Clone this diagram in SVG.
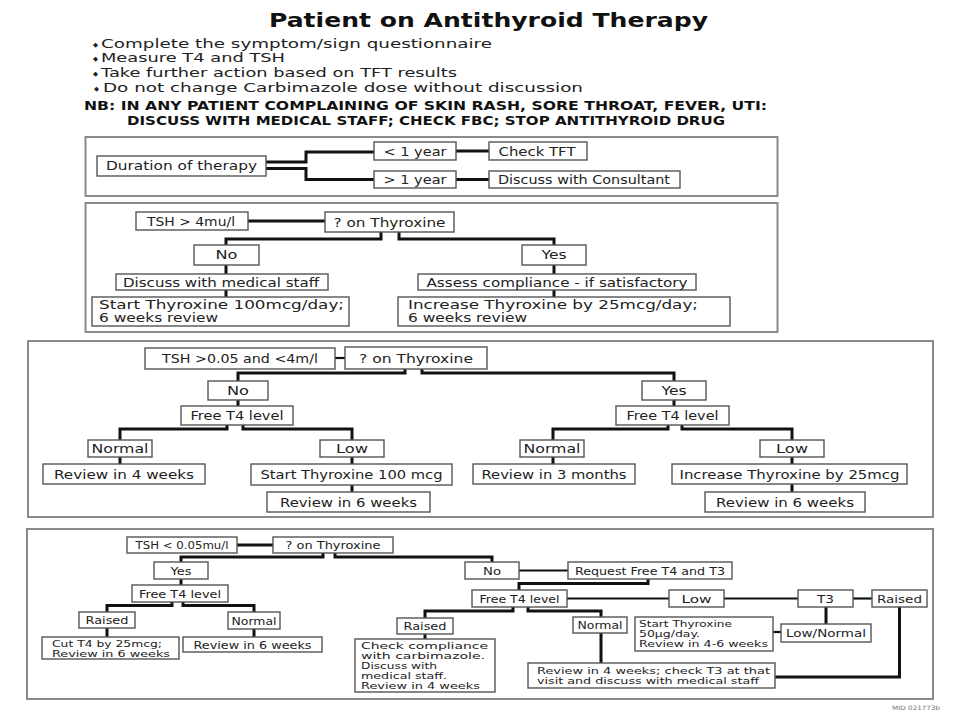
<svg xmlns="http://www.w3.org/2000/svg" width="960" height="720" viewBox="0 0 960 720">
<style>
.bg{fill:#fff}
.panel{fill:none;stroke:#8a8a8a;stroke-width:2}
.box{fill:#fff;stroke:#555;stroke-width:1.4}
.c{fill:none;stroke:#111;stroke-width:3;stroke-linejoin:miter}
.c2{fill:none;stroke:#111;stroke-width:2.2}
.t{font-family:"DejaVu Sans","Liberation Sans",sans-serif;font-size:12px;fill:#222}
.m{text-anchor:middle}
.s4{font-size:11px}
.sm{font-size:9.5px}
.hd{font-size:12.5px}
.nb{font-size:12px}
.b{font-weight:bold;fill:#111}
.title{font-size:20px}
.dia{font-size:6.5px;fill:#222}
.mid{font-size:6px;fill:#777;text-anchor:end}
</style>
<rect class="bg" x="0" y="0" width="960" height="720"/>

<g id="header">
<text class="t b title m" x="488.5" y="27" textLength="439" lengthAdjust="spacingAndGlyphs">Patient on Antithyroid Therapy</text>
<text class="t dia" x="93" y="46.5">◆</text>
<text class="t dia" x="93" y="60.5">◆</text>
<text class="t dia" x="93" y="75.5">◆</text>
<text class="t dia" x="94" y="90.5">◆</text>
<text class="t hd" x="101" y="48.3" textLength="391" lengthAdjust="spacingAndGlyphs">Complete the symptom/sign questionnaire</text>
<text class="t hd" x="101" y="62" textLength="184" lengthAdjust="spacingAndGlyphs">Measure T4 and TSH</text>
<text class="t hd" x="101" y="77" textLength="356" lengthAdjust="spacingAndGlyphs">Take further action based on TFT results</text>
<text class="t hd" x="103" y="92" textLength="480" lengthAdjust="spacingAndGlyphs">Do not change Carbimazole dose without discussion</text>
<text class="t b nb m" x="425.5" y="109.5" textLength="683" lengthAdjust="spacingAndGlyphs">NB: IN ANY PATIENT COMPLAINING OF SKIN RASH, SORE THROAT, FEVER, UTI:</text>
<text class="t b nb m" x="426" y="125" textLength="598" lengthAdjust="spacingAndGlyphs">DISCUSS WITH MEDICAL STAFF; CHECK FBC; STOP ANTITHYROID DRUG</text>
</g>

<g id="panels">
<rect class="panel" x="85.5" y="137" width="692" height="59"/>
<rect class="panel" x="85.5" y="203" width="692" height="129"/>
<rect class="panel" x="28" y="341" width="905" height="176"/>
<rect class="panel" x="27" y="529" width="906" height="170"/>
</g>

<g id="connectors">
<path class="c" d="M266,162 H306 V152 H374"/>
<path class="c" d="M266,168.5 H306 V179.5 H374"/>
<path class="c" d="M456,151 H489"/>
<path class="c" d="M456,179.5 H489"/>
<path class="c" d="M248,221 H325"/>
<path class="c" d="M381,232 V239 H226 V245"/>
<path class="c" d="M399,232 V239 H554 V245"/>
<path class="c" d="M226,265 V274"/>
<path class="c" d="M554,265 V274"/>
<path class="c" d="M226,290 V297"/>
<path class="c" d="M554,290 V297"/>
<path class="c2" d="M335,358 H345"/>
<path class="c" d="M405,369 V373 H238 V381"/>
<path class="c" d="M422,369 V373 H674 V381"/>
<path class="c" d="M238,400 V406"/>
<path class="c" d="M674,400 V406"/>
<path class="c" d="M227,425 V429 H120 V440"/>
<path class="c" d="M243,425 V429 H352 V440"/>
<path class="c" d="M668,425 V429 H553 V440"/>
<path class="c" d="M682,425 V429 H792 V440"/>
<path class="c" d="M120,457 V464"/>
<path class="c" d="M352,457 V464"/>
<path class="c" d="M553,457 V464"/>
<path class="c" d="M792,457 V464"/>
<path class="c" d="M352,485 V492"/>
<path class="c" d="M792,484 V492"/>
<path class="c" d="M237,545 H273"/>
<path class="c" d="M323,553 V557 H181 V562"/>
<path class="c" d="M335,553 V557 H492 V562"/>
<path class="c2" d="M519,570.5 H568"/>
<path class="c" d="M181,579 V585"/>
<path class="c" d="M648,579 V583.5 H519 V590"/>
<path class="c2" d="M567,598.5 H669"/>
<path class="c2" d="M724,598.5 H798"/>
<path class="c2" d="M853,598.5 H872"/>
<path class="c" d="M172,602 V605.5 H107 V612"/>
<path class="c" d="M183,602 V605.5 H254 V612"/>
<path class="c" d="M107,628 V637"/>
<path class="c" d="M254,629 V637"/>
<path class="c" d="M513,607 V611 H425 V618"/>
<path class="c" d="M528,607 V611 H601 V617"/>
<path class="c" d="M425,634 V639"/>
<path class="c" d="M601,633 V663"/>
<path class="c2" d="M773,632 H781"/>
<path class="c" d="M826,607 V624"/>
<path class="c" d="M899.5,607 V677 H775"/>
</g>

<g id="duration"><rect class="box" x="97" y="156" width="169" height="20"/><text class="t m" x="181.5" y="170" textLength="151" lengthAdjust="spacingAndGlyphs">Duration of therapy</text></g>
<g id="lt1year"><rect class="box" x="374" y="142" width="82" height="18"/><text class="t m" x="415" y="155.5" textLength="63" lengthAdjust="spacingAndGlyphs">&lt; 1 year</text></g>
<g id="checktft"><rect class="box" x="489" y="142" width="98" height="18"/><text class="t m" x="537" y="155.5" textLength="77" lengthAdjust="spacingAndGlyphs">Check TFT</text></g>
<g id="gt1year"><rect class="box" x="374" y="171" width="82" height="17"/><text class="t m" x="415" y="184" textLength="63" lengthAdjust="spacingAndGlyphs">&gt; 1 year</text></g>
<g id="consultant"><rect class="box" x="489" y="171" width="191" height="17"/><text class="t m" x="584" y="184" textLength="172" lengthAdjust="spacingAndGlyphs">Discuss with Consultant</text></g>

<g id="tsh4"><rect class="box" x="136" y="212" width="112" height="18"/><text class="t m" x="191" y="225.5" textLength="88" lengthAdjust="spacingAndGlyphs">TSH &gt; 4mu/l</text></g>
<g id="q2"><rect class="box" x="325" y="212" width="129" height="20"/><text class="t m" x="389.5" y="226.5" textLength="112" lengthAdjust="spacingAndGlyphs">? on Thyroxine</text></g>
<g id="no2"><rect class="box" x="194" y="245" width="65" height="20"/><text class="t m" x="226.5" y="259" textLength="22" lengthAdjust="spacingAndGlyphs">No</text></g>
<g id="yes2"><rect class="box" x="522" y="245" width="64" height="20"/><text class="t m" x="554" y="259" textLength="25" lengthAdjust="spacingAndGlyphs">Yes</text></g>
<g id="disc2"><rect class="box" x="116" y="274" width="212" height="16"/><text class="t m" x="221" y="286.5" textLength="196" lengthAdjust="spacingAndGlyphs">Discuss with medical staff</text></g>
<g id="assess2"><rect class="box" x="418" y="274" width="278" height="16"/><text class="t m" x="557" y="286.5" textLength="261" lengthAdjust="spacingAndGlyphs">Assess compliance - if satisfactory</text></g>
<g id="start2"><rect class="box" x="92" y="297" width="257" height="29"/><text class="t" x="99" y="309" textLength="245" lengthAdjust="spacingAndGlyphs">Start Thyroxine 100mcg/day;</text><text class="t" x="99" y="321.5" textLength="119" lengthAdjust="spacingAndGlyphs">6 weeks review</text></g>
<g id="incr2"><rect class="box" x="398" y="297" width="332" height="29"/><text class="t" x="408" y="309" textLength="290" lengthAdjust="spacingAndGlyphs">Increase Thyroxine by 25mcg/day;</text><text class="t" x="408" y="321.5" textLength="119" lengthAdjust="spacingAndGlyphs">6 weeks review</text></g>

<g id="tsh3"><rect class="box" x="145" y="348" width="190" height="21"/><text class="t m" x="240" y="362.5" textLength="156" lengthAdjust="spacingAndGlyphs">TSH &gt;0.05 and &lt;4m/l</text></g>
<g id="q3"><rect class="box" x="345" y="347" width="142" height="22"/><text class="t m" x="416" y="362.5" textLength="114" lengthAdjust="spacingAndGlyphs">? on Thyroxine</text></g>
<g id="no3"><rect class="box" x="208" y="381" width="60" height="19"/><text class="t m" x="238" y="395" textLength="22" lengthAdjust="spacingAndGlyphs">No</text></g>
<g id="yes3"><rect class="box" x="642" y="381" width="64" height="19"/><text class="t m" x="674" y="395" textLength="25" lengthAdjust="spacingAndGlyphs">Yes</text></g>
<g id="ft3l"><rect class="box" x="181" y="406" width="112" height="19"/><text class="t m" x="237" y="420" textLength="93" lengthAdjust="spacingAndGlyphs">Free T4 level</text></g>
<g id="ft3r"><rect class="box" x="616" y="406" width="113" height="19"/><text class="t m" x="672.5" y="420" textLength="92" lengthAdjust="spacingAndGlyphs">Free T4 level</text></g>
<g id="norm3l"><rect class="box" x="88" y="440" width="64" height="17"/><text class="t m" x="120" y="453" textLength="57" lengthAdjust="spacingAndGlyphs">Normal</text></g>
<g id="low3l"><rect class="box" x="320" y="440" width="64" height="17"/><text class="t m" x="352" y="453" textLength="32" lengthAdjust="spacingAndGlyphs">Low</text></g>
<g id="norm3r"><rect class="box" x="520" y="440" width="64" height="17"/><text class="t m" x="552" y="453" textLength="57" lengthAdjust="spacingAndGlyphs">Normal</text></g>
<g id="low3r"><rect class="box" x="760" y="440" width="64" height="17"/><text class="t m" x="792" y="453" textLength="32" lengthAdjust="spacingAndGlyphs">Low</text></g>
<g id="rev4w3"><rect class="box" x="43" y="464" width="162" height="20"/><text class="t m" x="124" y="478.5" textLength="140" lengthAdjust="spacingAndGlyphs">Review in 4 weeks</text></g>
<g id="startt3"><rect class="box" x="251" y="464" width="201" height="21"/><text class="t m" x="351.5" y="478.5" textLength="182" lengthAdjust="spacingAndGlyphs">Start Thyroxine 100 mcg</text></g>
<g id="rev3m"><rect class="box" x="473" y="464" width="162" height="20"/><text class="t m" x="554" y="478.5" textLength="145" lengthAdjust="spacingAndGlyphs">Review in 3 months</text></g>
<g id="incr3"><rect class="box" x="672" y="464" width="235" height="20"/><text class="t m" x="789.5" y="478.5" textLength="220" lengthAdjust="spacingAndGlyphs">Increase Thyroxine by 25mcg</text></g>
<g id="rev6l3"><rect class="box" x="267" y="492" width="163" height="20"/><text class="t m" x="348.5" y="506.5" textLength="137" lengthAdjust="spacingAndGlyphs">Review in 6 weeks</text></g>
<g id="rev6r3"><rect class="box" x="705" y="492" width="160" height="20"/><text class="t m" x="785" y="506.5" textLength="138" lengthAdjust="spacingAndGlyphs">Review in 6 weeks</text></g>

<g id="tsh005"><rect class="box" x="127" y="537" width="110" height="16"/><text class="t s4 m" x="182" y="549" textLength="93" lengthAdjust="spacingAndGlyphs">TSH &lt; 0.05mu/l</text></g>
<g id="q4"><rect class="box" x="273" y="537" width="120" height="16"/><text class="t s4 m" x="333" y="549" textLength="95" lengthAdjust="spacingAndGlyphs">? on Thyroxine</text></g>
<g id="yes4"><rect class="box" x="154" y="562" width="54" height="17"/><text class="t s4 m" x="181" y="574.5" textLength="21" lengthAdjust="spacingAndGlyphs">Yes</text></g>
<g id="no4"><rect class="box" x="465" y="562" width="54" height="17"/><text class="t s4 m" x="492" y="574.5" textLength="18" lengthAdjust="spacingAndGlyphs">No</text></g>
<g id="req4"><rect class="box" x="568" y="562" width="164" height="17"/><text class="t s4 m" x="650" y="574.5" textLength="150" lengthAdjust="spacingAndGlyphs">Request Free T4 and T3</text></g>
<g id="ft4l"><rect class="box" x="132" y="585" width="96" height="17"/><text class="t s4 m" x="180" y="597.5" textLength="82" lengthAdjust="spacingAndGlyphs">Free T4 level</text></g>
<g id="ft4r"><rect class="box" x="472" y="590" width="95" height="17"/><text class="t s4 m" x="519.5" y="602.5" textLength="80" lengthAdjust="spacingAndGlyphs">Free T4 level</text></g>
<g id="low4"><rect class="box" x="669" y="590" width="55" height="17"/><text class="t s4 m" x="696.5" y="602.5" textLength="30" lengthAdjust="spacingAndGlyphs">Low</text></g>
<g id="t3"><rect class="box" x="798" y="590" width="55" height="17"/><text class="t s4 m" x="825.5" y="602.5" textLength="17" lengthAdjust="spacingAndGlyphs">T3</text></g>
<g id="raised4r"><rect class="box" x="872" y="590" width="55" height="17"/><text class="t s4 m" x="899.5" y="602.5" textLength="45" lengthAdjust="spacingAndGlyphs">Raised</text></g>
<g id="raised4l"><rect class="box" x="79" y="612" width="56" height="16"/><text class="t s4 m" x="107" y="624" textLength="43" lengthAdjust="spacingAndGlyphs">Raised</text></g>
<g id="norm4l"><rect class="box" x="228" y="612" width="52" height="17"/><text class="t s4 m" x="254" y="624.5" textLength="45" lengthAdjust="spacingAndGlyphs">Normal</text></g>
<g id="cut4"><rect class="box" x="42" y="637" width="137" height="22"/><text class="t sm" x="52" y="646.5" textLength="110" lengthAdjust="spacingAndGlyphs">Cut T4 by 25mcg;</text><text class="t sm" x="52" y="656.5" textLength="118" lengthAdjust="spacingAndGlyphs">Review in 6 weeks</text></g>
<g id="rev6w4"><rect class="box" x="183" y="637" width="139" height="15"/><text class="t s4 m" x="252.5" y="648.5" textLength="118" lengthAdjust="spacingAndGlyphs">Review in 6 weeks</text></g>
<g id="raised4m"><rect class="box" x="397" y="618" width="56" height="16"/><text class="t s4 m" x="425" y="630" textLength="43" lengthAdjust="spacingAndGlyphs">Raised</text></g>
<g id="norm4m"><rect class="box" x="573" y="617" width="54" height="16"/><text class="t s4 m" x="600" y="629" textLength="45" lengthAdjust="spacingAndGlyphs">Normal</text></g>
<g id="check4"><rect class="box" x="355" y="639" width="140" height="53"/>
<text class="t sm" x="361" y="649" textLength="127" lengthAdjust="spacingAndGlyphs">Check compliance</text>
<text class="t sm" x="361" y="659" textLength="124" lengthAdjust="spacingAndGlyphs">with carbimazole.</text>
<text class="t sm" x="361" y="669" textLength="76" lengthAdjust="spacingAndGlyphs">Discuss with</text>
<text class="t sm" x="361" y="679" textLength="86" lengthAdjust="spacingAndGlyphs">medical staff.</text>
<text class="t sm" x="361" y="689" textLength="119" lengthAdjust="spacingAndGlyphs">Review in 4 weeks</text></g>
<g id="startt4"><rect class="box" x="635" y="617" width="138" height="34"/>
<text class="t sm" x="639" y="627" textLength="93" lengthAdjust="spacingAndGlyphs">Start Thyroxine</text>
<text class="t sm" x="639" y="637" textLength="61" lengthAdjust="spacingAndGlyphs">50μg/day.</text>
<text class="t sm" x="639" y="647" textLength="129" lengthAdjust="spacingAndGlyphs">Review in 4-6 weeks</text></g>
<g id="lownorm4"><rect class="box" x="781" y="624" width="90" height="18"/><text class="t s4 m" x="826" y="637" textLength="80" lengthAdjust="spacingAndGlyphs">Low/Normal</text></g>
<g id="rev4w4"><rect class="box" x="528" y="663" width="247" height="25"/>
<text class="t sm" x="537" y="674" textLength="233" lengthAdjust="spacingAndGlyphs">Review in 4 weeks; check T3 at that</text>
<text class="t sm" x="537" y="684" textLength="222" lengthAdjust="spacingAndGlyphs">visit and discuss with medical staff</text></g>

<text class="t mid" x="940" y="710" textLength="48" lengthAdjust="spacingAndGlyphs">MID 021773b</text>
</svg>
